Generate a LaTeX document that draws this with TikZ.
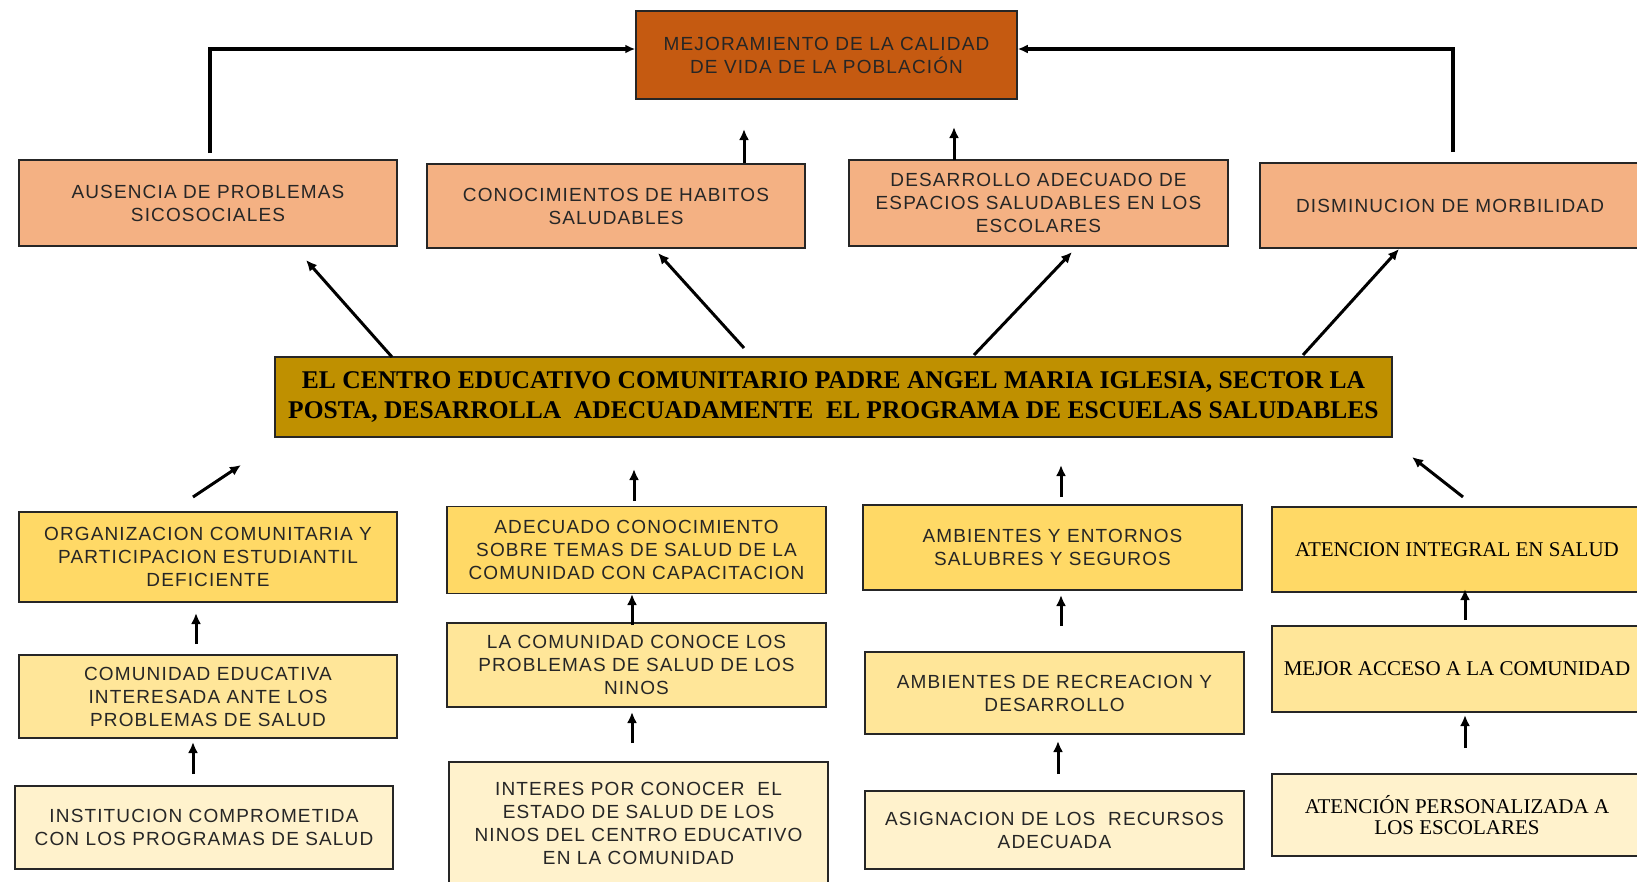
\documentclass[tikz,border=0pt]{standalone}
\usepackage{fontspec}
\setmainfont{Liberation Sans}
\newfontfamily\boxsans{Liberation Sans}[LetterSpace=6]
\newfontfamily\boxserif{Liberation Serif}
\usetikzlibrary{arrows.meta}
\definecolor{topc}{HTML}{C55A11}
\definecolor{rowtwo}{HTML}{F4B183}
\definecolor{cenc}{HTML}{BF9000}
\definecolor{rowfour}{HTML}{FFD966}
\definecolor{rowfive}{HTML}{FFE699}
\definecolor{rowsix}{HTML}{FFF2CC}
\tikzset{
  box/.style={draw=black!85, line width=1.5pt, inner sep=0pt, align=center,
    font=\boxsans\fontsize{19}{23}\selectfont, text=black!85},
  serifbox/.style={box, font=\boxserif\fontsize{21}{21}\selectfont, text=black},
  arr/.style={line width=3pt, -{Latex[length=11pt,width=10pt]}},
  arrtop/.style={line width=3.2pt, -{Latex[length=10pt,width=9pt]}},
}
\begin{document}
\begin{tikzpicture}[x=1pt,y=-1pt]
\useasboundingbox (0,0) rectangle (1637,881);
\clip (0,0) rectangle (1637,881);

% top
\node[box, fill=topc, minimum width=381pt, minimum height=88pt] (top) at (826.5,55)
  {MEJORAMIENTO DE LA CALIDAD\\DE VIDA DE LA POBLACIÓN};

% row 2
\begin{scope}[every node/.append style={font=\boxsans\fontsize{19}{25}\selectfont}]
\node[box, fill=rowtwo, minimum width=378pt, minimum height=86pt] (A) at (208,203)
  {AUSENCIA DE PROBLEMAS\\SICOSOCIALES};
\node[box, fill=rowtwo, minimum width=378pt, minimum height=84pt] (B) at (616,206)
  {CONOCIMIENTOS DE HABITOS\\SALUDABLES};
\end{scope}
\node[box, fill=rowtwo, minimum width=379pt, minimum height=86pt] (C) at (1038.5,203)
  {DESARROLLO ADECUADO DE\\ESPACIOS SALUDABLES EN LOS\\ESCOLARES};
\node[box, fill=rowtwo, minimum width=380pt, minimum height=85pt] (D) at (1450,205.5)
  {DISMINUCION DE MORBILIDAD};

% central
\node[box, fill=cenc, minimum width=1117pt, minimum height=80pt, text=black,
  font=\boxserif\bfseries\fontsize{25.5}{30}\selectfont] (cen) at (833.5,397)
  {EL CENTRO EDUCATIVO COMUNITARIO PADRE ANGEL MARIA IGLESIA, SECTOR LA\\
   POSTA, DESARROLLA\ \ ADECUADAMENTE\ \ EL PROGRAMA DE ESCUELAS SALUDABLES};

% row 4
\node[box, fill=rowfour, minimum width=378pt, minimum height=90pt] (E) at (208,557)
  {ORGANIZACION COMUNITARIA Y\\PARTICIPACION ESTUDIANTIL\\DEFICIENTE};
\node[box, fill=rowfour, minimum width=379pt, minimum height=87pt] (F) at (636.5,550)
  {ADECUADO CONOCIMIENTO\\SOBRE TEMAS DE SALUD DE LA\\COMUNIDAD CON CAPACITACION};
\node[box, fill=rowfour, minimum width=379pt, minimum height=85pt] (G) at (1052.5,547.5)
  {AMBIENTES Y ENTORNOS\\SALUBRES Y SEGUROS};
\node[serifbox, fill=rowfour, minimum width=370pt, minimum height=85pt] (H) at (1457,549.5)
  {ATENCION INTEGRAL EN SALUD};

% row 5
\node[box, fill=rowfive, minimum width=378pt, minimum height=83pt] (I) at (208,696.5)
  {COMUNIDAD EDUCATIVA\\INTERESADA ANTE LOS\\PROBLEMAS DE SALUD};
\node[box, fill=rowfive, minimum width=379pt, minimum height=84pt] (J) at (636.5,665)
  {LA COMUNIDAD CONOCE LOS\\PROBLEMAS DE SALUD DE LOS\\NINOS};
\node[box, fill=rowfive, minimum width=379pt, minimum height=82pt] (K) at (1054.5,693)
  {AMBIENTES DE RECREACION Y\\DESARROLLO};
\node[serifbox, fill=rowfive, minimum width=370pt, minimum height=86pt] (L) at (1457,669)
  {MEJOR ACCESO A LA COMUNIDAD};

% row 6
\node[box, fill=rowsix, minimum width=378pt, minimum height=83pt] (M) at (204,827.5)
  {INSTITUCION COMPROMETIDA\\CON LOS PROGRAMAS DE SALUD};
\node[box, fill=rowsix, minimum width=379pt, minimum height=122pt] (N) at (638.5,823)
  {INTERES POR CONOCER\ \ EL\\ESTADO DE SALUD DE LOS\\NINOS DEL CENTRO EDUCATIVO\\EN LA COMUNIDAD};
\node[box, fill=rowsix, minimum width=379pt, minimum height=78pt] (O) at (1054.5,830)
  {ASIGNACION DE LOS\ \ RECURSOS\\ADECUADA};
\node[serifbox, fill=rowsix, minimum width=370pt, minimum height=82pt] (P) at (1457,815)
  {ATENCIÓN PERSONALIZADA A\\LOS ESCOLARES};

% top connectors
\coordinate (tA) at (210,153);
\coordinate (tD) at (1453,152);
\draw[arrtop] (tA) |- ([yshift=6pt]top.west);
\draw[arrtop] (tD) |- ([yshift=6pt]top.east);

% other arrows
\foreach \n/\a/\b/\c/\d in {
  bt/744/163/744/129, ct/954/160/954/127,
  cA/392/357/306/260, cB/744/348/658/253, cC/974/355/1072/252, cD/1303/355/1399/249,
  Ec/193/497/241/465, Fc/634/501/634/469, Gc/1061/497/1061/465, Hc/1463/497/1412/457,
  IE/196/644/196/613, JF/632/625/632/594, KG/1061/626/1061/595, LH/1465/620/1465/589,
  MI/193/774/193/742, NJ/632/743/632/712, OK/1058/774/1058/741, PL/1465/748/1465/715}
{
  \coordinate (\n0) at (\a,\b);
  \coordinate (\n1) at (\c,\d);
  \draw[arr] (\n0) -- (\n1);
}
\end{tikzpicture}
\end{document}
